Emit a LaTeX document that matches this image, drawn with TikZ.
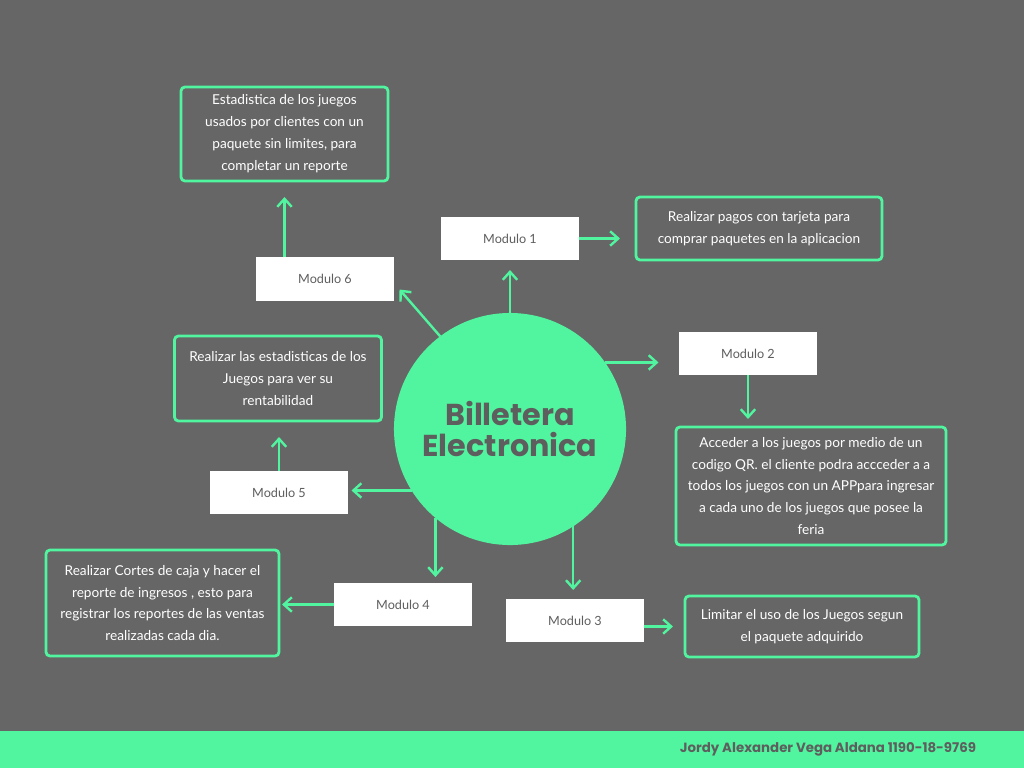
\documentclass[tikz,border=0pt]{standalone}
\usepackage{fontspec}
\setmainfont{Lato}
\newfontfamily\titulo{Poppins}
\usepackage{tikz}
\usetikzlibrary{arrows.meta}

\definecolor{fondo}{HTML}{666666}
\definecolor{menta}{HTML}{52F59F}
\definecolor{gristexto}{HTML}{5E5E5E}

\begin{document}
\begin{tikzpicture}[x=0.025cm,y=-0.025cm,
    modulo/.style={fill=white, minimum width=3.425cm, minimum height=1.075cm, inner sep=0pt, outer sep=0pt, text=gristexto, font=\fontsize{9}{11}\selectfont},
    detalle/.style={draw=menta, line width=0.07cm, rounded corners=0.1cm, inner sep=0pt, outer sep=0pt, align=center, text=white, font=\fontsize{9.7}{15.6}\selectfont},
    flecha/.style={-{Straight Barb[length=0.2cm,width=0.36cm]}, draw=menta, line width=0.06cm}]
          % fondo y franja inferior
          \fill[fondo] (0,0) rectangle (1024,768);
          \fill[menta] (0,731) rectangle (1024,768);
          \node[text=gristexto, font=\titulo\bfseries\fontsize{9.5}{12}\selectfont] (Autor) at (828,749) {Jordy Alexander Vega Aldana 1190-18-9769};

          \node[circle, fill=menta, minimum size=5.8cm, inner sep=0pt, outer sep=0pt, align=center, text=gristexto, font=\titulo\bfseries\fontsize{21.5}{22}\selectfont] (Billetera) at (510,429) {Billetera\\Electronica};

          \node[modulo] (Modulo1) at (510,238.5) {Modulo 1};
          \node[modulo] (Modulo2) at (748,353.5) {Modulo 2};
          \node[modulo] (Modulo3) at (575,620.5) {Modulo 3};
          \node[modulo] (Modulo4) at (403,604.5) {Modulo 4};
          \node[modulo] (Modulo5) at (279,492.5) {Modulo 5};
          \node[modulo] (Modulo6) at (325,279) {Modulo 6};

          \node[detalle, minimum width=6.15cm, minimum height=1.575cm] (Detalle1) at (759,228.5) {Realizar pagos con tarjeta para\\comprar paquetes en la aplicacion};
          \node[detalle, minimum width=6.75cm, minimum height=2.95cm] (Detalle2) at (811,486) {Acceder a los juegos por medio de un\\codigo QR. el cliente podra accceder a a\\todos los juegos con un APPpara ingresar\\a cada uno de los juegos que posee la\\feria};
          \node[detalle, minimum width=5.85cm, minimum height=1.525cm] (Detalle3) at (802,626.5) {Limitar el uso de los Juegos segun\\el paquete adquirido};
          \node[detalle, minimum width=5.825cm, minimum height=2.65cm] (Detalle4) at (162.5,603) {Realizar Cortes de caja y hacer el\\reporte de ingresos , esto para\\registrar los reportes de las ventas\\realizadas cada dia.};
          \node[detalle, minimum width=5.175cm, minimum height=2.125cm] (Detalle5) at (278,378.5) {Realizar las estadisticas de los\\Juegos para ver su\\rentabilidad};
          \node[detalle, minimum width=5.175cm, minimum height=2.35cm] (Detalle6) at (284.5,134) {Estadistica de los juegos\\usados por clientes con un\\paquete sin limites, para\\completar un reporte};

          \draw[flecha, shorten >=0.25cm] (Billetera) -- (Modulo1);
          \draw[flecha, shorten >=0.4cm] (Modulo1.east) -- (Modulo1.east -| Detalle1.west);
          \draw[flecha, shorten >=0.525cm] (Billetera.35.3) -- (Billetera.35.3 -| Modulo2.west);
          \draw[flecha, shorten >=0.2cm] (Modulo2.south) -- (Modulo2.south |- Detalle2.north);
          \draw[flecha, shorten >=0.225cm] (Billetera.-57.1) -- (Billetera.-57.1 |- Modulo3.north);
          \draw[flecha, shorten >=0.3cm] (Modulo3.east |- Detalle3.west) -- (Detalle3.west);
          \draw[flecha, shorten >=0.15cm] (Billetera.230.4) -- (Billetera.230.4 |- Modulo4.north);
          \draw[flecha, shorten >=0.075cm] (Modulo4.west) -- (Modulo4.west -| Detalle4.east);
          \draw[flecha, shorten >=0.1cm] (Billetera.212.3) -- (Billetera.212.3 -| Modulo5.east);
          \draw[flecha, shorten >=0.4cm] (Modulo5.north) -- (Modulo5.north |- Detalle5.south);
          \draw[flecha] (Billetera.127.3) -- ([shift={(6,-11)}]Modulo6.south east);
          \draw[flecha, shorten >=0.4cm] (Modulo6.north -| Detalle6) -- (Detalle6.south);
        \end{tikzpicture}
\end{document}
